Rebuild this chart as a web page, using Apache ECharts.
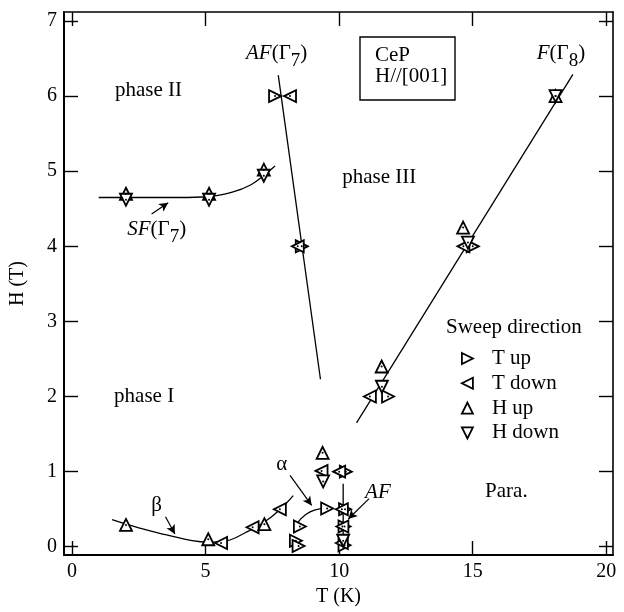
<!DOCTYPE html>
<html>
<head>
<meta charset="utf-8">
<script src="https://cdn.jsdelivr.net/npm/echarts@6/dist/echarts.min.js"></script>
<style>
  html, body { margin: 0; padding: 0; background: #fff; }
  #chart { width: 624px; height: 612px; }
</style>
</head>
<body>
<div id="chart"></div>
<script>
// tick values
const xTicks = [0, 5, 10, 15, 20];
const yTicks = [0, 1, 2, 3, 4, 5, 6, 7];

// measured points, one array per sweep direction  [T (K), H (T)]
const tUp = [
  [7.6, 6.0], [8.6, 4.0], [15.0, 4.0], [11.83, 2.0],
  [10.25, 1.0], [10.22, 0.5], [10.2, 0.27], [10.2, 0.02],
  [9.55, 0.51], [8.53, 0.27], [8.38, 0.08], [8.48, 0.01]
];
const tDown = [
  [8.16, 6.0], [8.45, 4.0], [14.65, 4.0], [11.15, 2.0],
  [9.34, 1.01], [10.0, 1.0], [10.1, 0.5], [10.12, 0.27], [10.1, 0.05],
  [5.58, 0.05], [6.76, 0.26], [7.78, 0.5]
];
const hUp = [
  [2.02, 4.7], [5.13, 4.7], [7.18, 5.02], [18.1, 6.0],
  [14.64, 4.25], [11.59, 2.4], [9.38, 1.25],
  [2.02, 0.29], [5.1, 0.1], [7.2, 0.3]
];
const hDown = [
  [2.02, 4.62], [5.13, 4.62], [7.18, 4.94], [18.1, 6.0],
  [14.82, 4.05], [11.6, 2.13], [9.4, 0.87], [10.15, 0.08]
];

// phase boundaries (guides to the eye)
const sfLine = [[1.0, 4.65], [2, 4.65], [3, 4.65], [4, 4.65], [5.1, 4.66], [6, 4.72], [6.7, 4.82], [7.2, 4.95], [7.6, 5.07]];
const afG7Line = [[7.72, 6.28], [9.3, 2.23]];
const fG8Line = [[10.65, 1.65], [18.75, 6.29]];
const afLowLine = [[10.15, 0.84], [10.15, 0]];
const alphaLine = [[8.3, 0.18], [8.45, 0.32], [8.75, 0.43], [9.1, 0.49], [9.5, 0.51]];
const betaLine = [[1.5, 0.36], [2.5, 0.25], [3.5, 0.16], [4.5, 0.08], [5.1, 0.06], [5.8, 0.08], [6.5, 0.19], [7.2, 0.33], [7.8, 0.5], [8.28, 0.68]];

// annotations [T, H, text]
const notes = [
  [2.86, 6.08, 'phase II'],
  [11.5, 4.91, 'phase III'],
  [2.7, 2.0, 'phase I'],
  [16.26, 0.73, 'Para.'],
  [7.66, 6.57, '{i|AF}(Γ{s|7})'],
  [18.3, 6.57, '{i|F}(Γ{s|8})'],
  [3.17, 4.22, '{i|SF}(Γ{s|7})'],
  [3.17, 0.55, 'β'],
  [7.85, 1.1, 'α'],
  [11.45, 0.72, '{i|AF}']
];
// arrows [[from], [to]]
const arrows = [
  [[2.98, 4.43], [3.6, 4.58]],
  [[3.5, 0.4], [3.85, 0.17]],
  [[8.16, 0.95], [8.97, 0.55]],
  [[11.12, 0.64], [10.34, 0.37]]
];

const serif = 'Liberation Serif, Times New Roman, serif';
const chart = echarts.init(document.getElementById('chart'));

function guide(data, smooth) {
  return {
    type: 'line', data: data, smooth: smooth ? 0.4 : false, symbol: 'none',
    lineStyle: { color: '#000', width: 1.3 }, silent: true, z: 2
  };
}
function marks(name, data, rot) {
  return {
    name: name, type: 'scatter', data: data, symbol: 'triangle', symbolSize: 12,
    symbolRotate: rot,
    itemStyle: { color: '#fff', borderColor: '#000', borderWidth: 1.8, opacity: 1 },
    z: 3
  };
}

const tickCommon = { show: true, inside: true, length: 14, lineStyle: { color: '#000', width: 1.4 } };

const option = {
  animation: false,
  backgroundColor: '#fff',
  textStyle: { fontFamily: serif, color: '#000' },
  grid: { left: 64, right: 11, top: 12, bottom: 56, containLabel: false },
  xAxis: [
    {
      type: 'value', min: -0.3, max: 20.25, position: 'bottom',
      name: 'T (K)', nameLocation: 'middle', nameGap: 32,
      nameTextStyle: { fontSize: 20, fontFamily: serif, color: '#000' },
      axisLine: { onZero: false, lineStyle: { color: '#000', width: 2 } },
      axisTick: Object.assign({ customValues: xTicks }, tickCommon),
      axisLabel: { customValues: xTicks, fontSize: 20, fontFamily: serif, color: '#000', margin: 7 },
      splitLine: { show: false }
    },
    {
      type: 'value', min: -0.3, max: 20.25, position: 'top',
      axisLine: { onZero: false, lineStyle: { color: '#000', width: 1.6 } },
      axisTick: Object.assign({ customValues: xTicks }, tickCommon),
      axisLabel: { show: false },
      splitLine: { show: false }
    }
  ],
  yAxis: [
    {
      type: 'value', min: -0.11, max: 7.12, position: 'left',
      name: 'H (T)', nameLocation: 'middle', nameGap: 36,
      nameTextStyle: { fontSize: 20, fontFamily: serif, color: '#000' },
      axisLine: { onZero: false, lineStyle: { color: '#000', width: 2 } },
      axisTick: Object.assign({ customValues: yTicks }, tickCommon),
      axisLabel: { customValues: yTicks, fontSize: 20, fontFamily: serif, color: '#000', margin: 7 },
      splitLine: { show: false }
    },
    {
      type: 'value', min: -0.11, max: 7.12, position: 'right',
      axisLine: { onZero: false, lineStyle: { color: '#000', width: 1.6 } },
      axisTick: Object.assign({ customValues: yTicks }, tickCommon),
      axisLabel: { show: false },
      splitLine: { show: false }
    }
  ],
  legend: {
    orient: 'vertical', left: 461, top: 348, padding: 0,
    itemWidth: 11, itemHeight: 11, itemGap: 3.8,
    data: [
      { name: 'T up', icon: 'path://M0,0L10,5L0,10Z' },
      { name: 'T down', icon: 'path://M10,0L0,5L10,10Z' },
      { name: 'H up', icon: 'path://M5,0L10,10L0,10Z' },
      { name: 'H down', icon: 'path://M0,0L10,0L5,10Z' }
    ],
    itemStyle: { color: '#fff', borderColor: '#000', borderWidth: 1.8 },
    textStyle: { fontSize: 21, lineHeight: 21, fontFamily: serif, color: '#000', padding: [0, 0, 0, 14] },
    selectedMode: false
  },
  graphic: [
    { type: 'rect', shape: { x: 360, y: 37, width: 95, height: 63 },
      style: { fill: 'none', stroke: '#000', lineWidth: 1.4 } },
    { type: 'text', left: 375, top: 45, style: { text: 'CeP', font: '21px ' + serif, fill: '#000' } },
    { type: 'text', left: 375, top: 66, style: { text: 'H//[001]', font: '21px ' + serif, fill: '#000' } },
    { type: 'text', left: 446, top: 317, style: { text: 'Sweep direction', font: '21px ' + serif, fill: '#000' } }
  ],
  series: [
    guide(sfLine, true),
    guide(afG7Line, false),
    guide(fG8Line, false),
    guide(afLowLine, false),
    guide(alphaLine, true),
    guide(betaLine, true),
    marks('T up', tUp, -90),
    marks('T down', tDown, 90),
    marks('H up', hUp, 0),
    marks('H down', hDown, 180),
    {
      type: 'scatter', silent: true, z: 4,
      data: [].concat(tUp, tDown, hUp, hDown),
      symbol: 'circle', symbolSize: 2, itemStyle: { color: '#000', opacity: 1 }
    },
    {
      type: 'scatter', silent: true, z: 5,
      data: notes.map(n => ({ value: [n[0], n[1]], label: { formatter: n[2] } })),
      symbolSize: 0,
      itemStyle: { opacity: 1 },
      label: {
        show: true, position: 'inside', fontSize: 21, fontFamily: serif, color: '#000', opacity: 1,
        rich: {
          i: { fontStyle: 'italic', fontSize: 21, fontFamily: serif, color: '#000' },
          s: { fontSize: 19, fontFamily: serif, color: '#000', verticalAlign: 'bottom', lineHeight: 34 }
        }
      },
      markLine: {
        silent: true, symbol: ['none', 'arrow'], symbolSize: [7, 9],
        lineStyle: { color: '#000', width: 1.2, type: 'solid', opacity: 1 },
        label: { show: false },
        data: arrows.map(a => [{ coord: a[0] }, { coord: a[1] }])
      }
    }
  ]
};
chart.setOption(option);
</script>
</body>
</html>
